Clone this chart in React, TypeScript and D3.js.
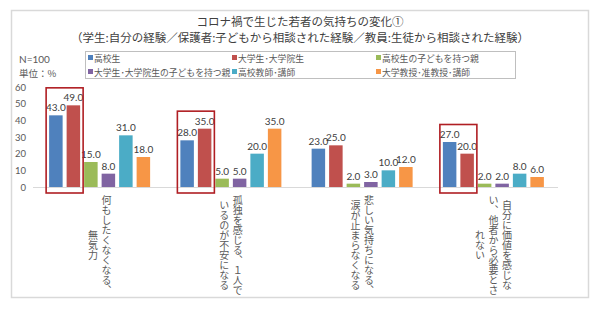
import React from "react";
import * as d3 from "d3";

const categories = ["c1", "c2", "c3", "c4"];
const categoryLines: string[][] = [
  ["何もしたくなくなる、", "無気力"],
  ["孤独を感じる、１人で", "いるのが不安になる"],
  ["悲しい気持ちになる、", "涙が止まらなくなる"],
  ["自分に価値を感じな", "い、他者から必要とさ", "れない"],
];
const seriesNames = [
  "高校生",
  "大学生･大学院生",
  "高校生の子どもを持つ親",
  "大学生･大学院生の子どもを持つ親",
  "高校教師･講師",
  "大学教授･准教授･講師",
];
const seriesColors = ["#4F81BD", "#C0504D", "#9BBB59", "#8064A2", "#4BACC6", "#F79646"];
const s1 = [43, 28, 23, 27];
const s2 = [49, 35, 25, 20];
const s3 = [15, 5, 2, 2];
const s4 = [8, 5, 3, 2];
const s5 = [31, 20, 10, 8];
const s6 = [18, 35, 12, 6];
const seriesValues = [s1, s2, s3, s4, s5, s6];
const highlighted = [0, 1, 3];
const yTicks = [0, 10, 20, 30, 40, 50, 60];

const W = 600;
const H = 336;
const JP = "'Noto Sans CJK JP', sans-serif";
const NUM = "Lato, 'Noto Sans CJK JP', sans-serif";

export default function App() {
  const x0 = d3.scaleBand<string>().domain(categories).range([34, 559]).paddingInner(0.2).paddingOuter(0.1);
  const x1 = d3
    .scaleBand<string>()
    .domain(seriesNames)
    .range([0, x0.bandwidth()])
    .paddingInner(4 / 17.5)
    .paddingOuter(2 / 17.5);
  const y = d3.scaleLinear().domain([0, 60]).range([187, 87]);

  const legendCols = [88, 232, 376];
  const legendRows = [58, 72];

  return (
    <svg
      width={W}
      height={H}
      style={{ position: "absolute", left: 0, top: 0, background: "#fff" }}
    >
      <rect x={0} y={0} width={W} height={H} fill="#fff" />
      <rect x={11.5} y={10.5} width={577} height={287} fill="#fff" stroke="#D9D9D9" strokeWidth={1.5} />
      <text x={300} y={26} textAnchor="middle" fontFamily={JP} fontSize={11.5} fill="#404040">
        コロナ禍で生じた若者の気持ちの変化①
      </text>
      <text x={300} y={42} textAnchor="middle" fontFamily={JP} fontSize={11.5} fill="#404040">
        （学生:自分の経験／保護者:子どもから相談された経験／教員:生徒から相談された経験）
      </text>

      <text x={19} y={63} fontFamily={NUM} fontSize={10} fill="#595959">N=100</text>
      <text x={19} y={77} fontFamily={JP} fontSize={9.5} fill="#595959">単位：%</text>

      <rect x={85.5} y={51.5} width={430} height={27} fill="#fff" stroke="#BFBFBF" strokeWidth={1} />
      {seriesNames.map((name, i) => {
        const lx = legendCols[i % 3];
        const ly = legendRows[Math.floor(i / 3)];
        return (
          <g key={name}>
            <rect x={lx} y={ly - 3} width={5} height={5} fill={seriesColors[i]} />
            <text x={lx + 6} y={ly} dominantBaseline="central" fontFamily={JP} fontSize={8.8} fill="#595959">
              {name}
            </text>
          </g>
        );
      })}

      {yTicks.map((t) => (
        <text key={t} x={26} y={y(t)} textAnchor="end" dominantBaseline="central" fontFamily={NUM} fontSize={9.5} fill="#595959">
          {t}
        </text>
      ))}
      <line x1={33} x2={558} y1={y(0) + 0.5} y2={y(0) + 0.5} stroke="#D9D9D9" strokeWidth={1} />

      {categories.map((c, ci) => {
        const gx = x0(c)!;
        return (
          <g key={c}>
            {seriesNames.map((s, si) => {
              const v = seriesValues[si][ci];
              const bx = gx + x1(s)!;
              return (
                <g key={s}>
                  <rect x={bx} y={y(v)} width={x1.bandwidth()} height={y(0) - y(v)} fill={seriesColors[si]} />
                  <text
                    x={bx + x1.bandwidth() / 2}
                    y={y(v) - 4}
                    textAnchor="middle"
                    fontFamily={NUM}
                    fontSize={10}
                    fill="#404040"
                  >
                    {v.toFixed(1)}
                  </text>
                </g>
              );
            })}
          </g>
        );
      })}

      {highlighted.map((ci) => {
        const c = categories[ci];
        const gx = x0(c)!;
        const left = gx + x1(seriesNames[0])! - 3;
        const right = gx + x1(seriesNames[1])! + x1.bandwidth() + 3;
        const mx = Math.max(s1[ci], s2[ci]);
        const top = y(mx) - 17.5;
        const bottom = y(0) + 6;
        return (
          <rect
            key={"h" + ci}
            x={left}
            y={top}
            width={right - left}
            height={bottom - top}
            fill="none"
            stroke="#B01E23"
            strokeWidth={1.6}
          />
        );
      })}

      {categories.map((c, ci) => {
        const cx = x0(c)! + x0.bandwidth() / 2;
        const lines = categoryLines[ci];
        const gap = 13.5;
        return (
          <g key={"l" + c}>
            {lines.map((ln, li) => (
              <text
                key={li}
                x={cx + ((lines.length - 1) / 2 - li) * gap}
                y={245}
                textAnchor="middle"
                dominantBaseline="central"
                fontFamily={JP}
                fontSize={10}
                fill="#595959"
                style={{ writingMode: "vertical-rl" } as any}
              >
                {ln}
              </text>
            ))}
          </g>
        );
      })}
    </svg>
  );
}
